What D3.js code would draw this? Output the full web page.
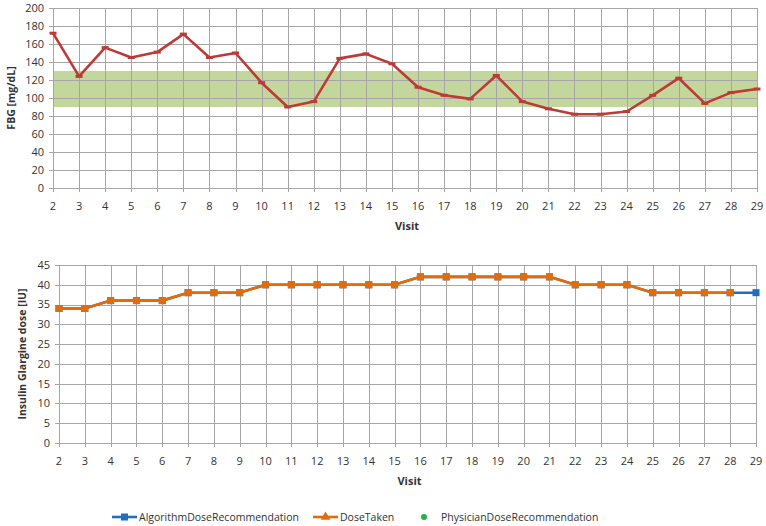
<!DOCTYPE html>
<html>
<head>
<meta charset="utf-8">
<script src="https://cdn.jsdelivr.net/npm/d3@7"></script>
<style>
    body { margin: 0; background: #fff; }
    svg text { font-family: "Open Sans", "Liberation Sans", sans-serif; fill: #333; }
    .grid line { stroke: #a6a6a6; stroke-width: 1; }
</style>
</head>
<body>
<svg id="chart" width="766" height="526"></svg>
<script>
    var visits = d3.range(2, 30);
    var fbg = [172, 124, 156, 145, 151, 171, 145, 150, 117, 90, 96, 144, 149, 138,
        112, 103, 99, 125, 96, 88, 82, 82, 85, 103, 122, 94, 106, 110];
    var targetBand = [90, 130];
    var algorithmDose = [34, 34, 36, 36, 36, 38, 38, 38, 40, 40, 40, 40, 40, 40,
        42, 42, 42, 42, 42, 42, 40, 40, 40, 38, 38, 38, 38, 38];
    var doseTaken = [34, 34, 36, 36, 36, 38, 38, 38, 40, 40, 40, 40, 40, 40,
        42, 42, 42, 42, 42, 42, 40, 40, 40, 38, 38, 38, 38];
    var physicianDose = [];
    var fbgTicks = d3.range(0, 201, 20);
    var doseTicks = d3.range(0, 46, 5);
    var legendNames = ['AlgorithmDoseRecommendation', 'DoseTaken', 'PhysicianDoseRecommendation'];

    var svg = d3.select('#chart');

    function panel(opts) {
        var x = d3.scaleLinear().domain([2, 29]).range([opts.left, opts.right]);
        var y = d3.scaleLinear().domain(opts.domain).range([opts.bottom, opts.top]);
        var g = svg.append('g');

        if (opts.band) {
            g.append('rect')
                .attr('x', x(2))
                .attr('width', x(29) - x(2))
                .attr('y', y(opts.band[1]))
                .attr('height', y(opts.band[0]) - y(opts.band[1]))
                .attr('fill', '#c3d69b');
        }

        var grid = g.append('g').attr('class', 'grid');
        grid.selectAll('.h').data(opts.ticks).enter().append('line')
            .attr('x1', x(2) - 4).attr('x2', x(29))
            .attr('y1', function (d) { return Math.round(y(d)) + 0.5; })
            .attr('y2', function (d) { return Math.round(y(d)) + 0.5; });
        grid.selectAll('.v').data(visits).enter().append('line')
            .attr('y1', y(opts.domain[1])).attr('y2', y(0) + 4)
            .attr('x1', function (d) { return Math.round(x(d)) + 0.5; })
            .attr('x2', function (d) { return Math.round(x(d)) + 0.5; });

        g.selectAll('.yl').data(opts.ticks).enter().append('text')
            .attr('x', x(2) - 9)
            .attr('y', function (d) { return y(d); })
            .attr('dy', '0.35em')
            .attr('text-anchor', 'end')
            .style('font-size', '11px')
            .text(function (d) { return d; });

        g.selectAll('.xl').data(visits).enter().append('text')
            .attr('x', function (d) { return x(d); })
            .attr('y', y(0) + 18)
            .attr('dy', '0.35em')
            .attr('text-anchor', 'middle')
            .style('font-size', '11px')
            .text(function (d) { return d; });

        g.append('text')
            .attr('x', (x(2) + x(29)) / 2 + 2)
            .attr('y', y(0) + 38)
            .attr('dy', '0.35em')
            .attr('text-anchor', 'middle')
            .style('font-size', '11px')
            .style('font-weight', 'bold')
            .text('Visit');

        g.append('text')
            .attr('transform', 'translate(' + opts.labelX + ',' + (opts.top + opts.bottom) / 2 + ') rotate(-90)')
            .attr('text-anchor', 'middle')
            .attr('dy', '0.35em')
            .style('font-size', '10.5px')
            .style('font-weight', 'bold')
            .text(opts.label);

        return { g: g, x: x, y: y };
    }

    // top panel: fasting blood glucose
    var fbgPanel = panel({
        left: 53, right: 757, top: 8, bottom: 188,
        domain: [0, 200], ticks: fbgTicks, band: targetBand,
        labelX: 11, label: 'FBG [mg/dL]'
    });

    var fbgLine = d3.line()
        .x(function (d, i) { return fbgPanel.x(visits[i]); })
        .y(function (d) { return fbgPanel.y(d); });

    fbgPanel.g.append('path')
        .datum(fbg)
        .attr('d', fbgLine)
        .attr('fill', 'none')
        .attr('stroke', '#be3a36')
        .attr('stroke-width', 2.6)
        .attr('stroke-linejoin', 'round');

    fbgPanel.g.selectAll('.m').data(fbg).enter().append('rect')
        .attr('x', function (d, i) { return fbgPanel.x(visits[i]) - 3.5; })
        .attr('y', function (d) { return fbgPanel.y(d) - 1.5; })
        .attr('width', 7).attr('height', 3)
        .attr('fill', '#be3a36');

    // bottom panel: insulin dose
    var dosePanel = panel({
        left: 59, right: 756, top: 265, bottom: 443,
        domain: [0, 45], ticks: doseTicks,
        labelX: 22, label: 'Insulin Glargine dose [IU]'
    });

    function doseLine(arr) {
        return d3.line()
            .x(function (d, i) { return dosePanel.x(visits[i]); })
            .y(function (d) { return dosePanel.y(d); })(arr);
    }

    function drawSeries(arr, color) {
        dosePanel.g.append('path')
            .attr('d', doseLine(arr))
            .attr('fill', 'none')
            .attr('stroke', color)
            .attr('stroke-width', 2.6);
        dosePanel.g.selectAll(null).data(arr).enter().append('rect')
            .attr('x', function (d, i) { return dosePanel.x(visits[i]) - 3.5; })
            .attr('y', function (d) { return dosePanel.y(d) - 3.5; })
            .attr('width', 7).attr('height', 7)
            .attr('fill', color);
    }

    drawSeries(algorithmDose, '#1f6fbf');
    drawSeries(doseTaken, '#e36c0a');

    dosePanel.g.selectAll(null).data(physicianDose).enter().append('circle')
        .attr('cx', function (d) { return dosePanel.x(d.visit); })
        .attr('cy', function (d) { return dosePanel.y(d.value); })
        .attr('r', 3)
        .attr('fill', '#22b14c');

    // legend
    var legendX = [112, 313, 412];
    var legendColors = ['#1f6fbf', '#e36c0a', '#22b14c'];
    var lg = svg.append('g').attr('transform', 'translate(0,517)');

    legendNames.forEach(function (name, i) {
        var lx = legendX[i];
        if (i < 2) {
            lg.append('line')
                .attr('x1', lx).attr('x2', lx + 25)
                .attr('stroke', legendColors[i])
                .attr('stroke-width', 2.6);
        }
        if (i === 0) {
            lg.append('rect').attr('x', lx + 9).attr('y', -3.5)
                .attr('width', 7).attr('height', 7).attr('fill', legendColors[i]);
        } else if (i === 1) {
            lg.append('path').attr('d', d3.symbol(d3.symbolTriangle, 40)())
                .attr('transform', 'translate(' + (lx + 12.5) + ',0)')
                .attr('fill', legendColors[i]);
        } else {
            lg.append('circle').attr('cx', lx + 12).attr('r', 3)
                .attr('fill', legendColors[i]);
        }
        lg.append('text')
            .attr('x', i === 2 ? lx + 29 : lx + 27)
            .attr('dy', '0.35em')
            .style('font-size', '10.5px')
            .text(name);
    });
</script>
</body>
</html>
